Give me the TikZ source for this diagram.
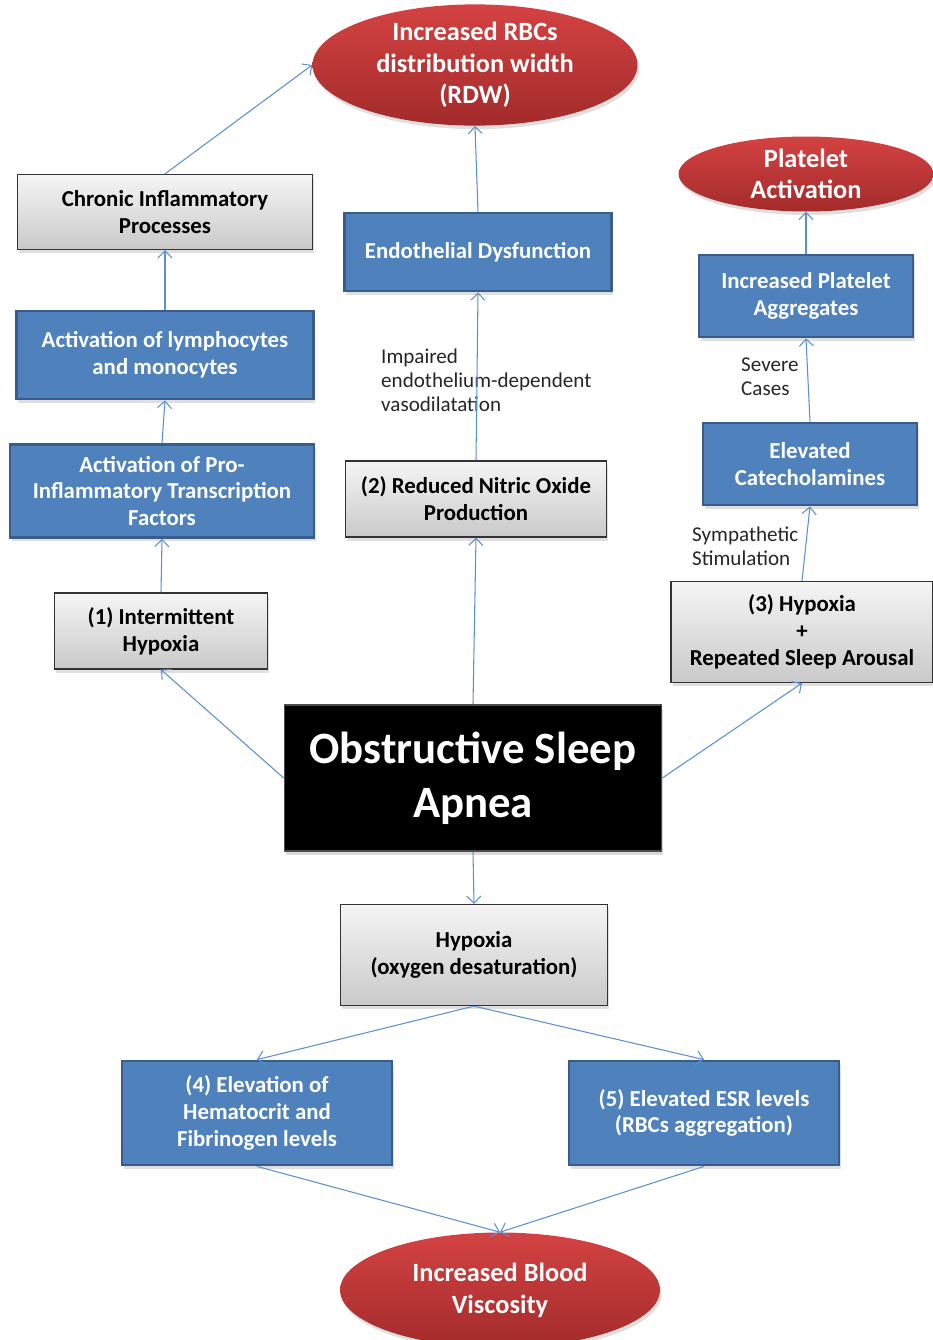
\documentclass[tikz,border=0pt]{standalone}
\usepackage{fontspec}
\setmainfont{Carlito}
\usetikzlibrary{shapes.geometric,shadows,arrows.meta}
\definecolor{boxblue}{HTML}{4F81BD}
\definecolor{boxedge}{HTML}{385D8A}
\definecolor{linkblue}{HTML}{5B8FD0}
\definecolor{ovaltop}{HTML}{D44242}
\definecolor{ovalbot}{HTML}{A32B2B}
\tikzstyle{bluebox}=[rectangle, draw=boxedge, line width=1.6pt, fill=boxblue, text=white, align=center,
  font=\bfseries\fontsize{13}{15.3}\selectfont, drop shadow={shadow xshift=1pt, shadow yshift=-2pt, opacity=0.25}]
\tikzstyle{graybox}=[rectangle, draw=black!80, line width=0.7pt, top color=gray!8, bottom color=gray!42, align=center,
  font=\bfseries\fontsize{13}{15.3}\selectfont, drop shadow={shadow xshift=1pt, shadow yshift=-2pt, opacity=0.25}]
\tikzstyle{oval}=[ellipse, inner sep=0pt, top color=ovaltop, bottom color=ovalbot, text=white, align=center,
  font=\bfseries\fontsize{15}{18}\selectfont, drop shadow={shadow xshift=1pt, shadow yshift=-2pt, opacity=0.25}]
\tikzstyle{note}=[align=left, text=black!85, font=\fontsize{12}{13.6}\selectfont]
\tikzstyle{link}=[draw=linkblue, line width=0.6pt, -{Straight Barb[length=4pt,width=8pt]}]
\begin{document}
\begin{tikzpicture}[x=0.02cm, y=-0.02cm]
\useasboundingbox (0,0) rectangle (933,1340);
\clip (0,0) rectangle (933,1340);
\node [oval, minimum width=6.5cm, minimum height=2.3cm] (rdw) at (475,65) {Increased RBCs\\distribution width\\(RDW)};
\node [oval, minimum width=5.1cm, minimum height=1.5cm] (platelet) at (806,174) {Platelet\\Activation};
\node [graybox, minimum width=5.9cm, minimum height=1.5cm] (chronic) at (165,212) {Chronic Inflammatory\\Processes};
\node [bluebox, minimum width=5.34cm, minimum height=1.56cm] (endo) at (478,252) {Endothelial Dysfunction};
\node [bluebox, minimum width=4.28cm, minimum height=1.64cm] (aggr) at (806,296) {Increased Platelet\\Aggregates};
\node [bluebox, minimum width=5.94cm, minimum height=1.76cm] (lymph) at (165,355) {Activation of lymphocytes\\and monocytes};
\node [bluebox, minimum width=4.28cm, minimum height=1.64cm] (catechol) at (810,464) {Elevated\\Catecholamines};
\node [bluebox, minimum width=6.08cm, minimum height=1.86cm] (pro) at (162,491) {Activation of Pro-\\Inflammatory Transcription\\Factors};
\node [graybox, minimum width=5.22cm, minimum height=1.52cm] (nitric) at (476,499) {(2) Reduced Nitric Oxide\\Production};
\node [graybox, minimum width=4.26cm, minimum height=1.52cm] (intermit) at (161,631) {(1) Intermittent\\Hypoxia};
\node [graybox, minimum width=5.24cm, minimum height=2.02cm] (arousal) at (802,632) {(3) Hypoxia\\+\\Repeated Sleep Arousal};
\node [rectangle, draw=black!70, line width=1pt, fill=black, text=white, align=center, minimum width=7.54cm, minimum height=2.92cm,
  font=\bfseries\fontsize{25.5}{31}\selectfont, drop shadow={shadow xshift=1pt, shadow yshift=-2pt, opacity=0.3}] (osa) at (473,778) {Obstructive Sleep\\Apnea};
\node [graybox, minimum width=5.34cm, minimum height=2.02cm] (hypox) at (474,955) {Hypoxia\\(oxygen desaturation)};
\node [bluebox, minimum width=5.4cm, minimum height=2.08cm] (hemat) at (257,1113) {(4) Elevation of\\Hematocrit and\\Fibrinogen levels};
\node [bluebox, minimum width=5.4cm, minimum height=2.08cm] (esr) at (704,1113) {(5) Elevated ESR levels\\(RBCs aggregation)};
\node [oval, minimum width=6.4cm, minimum height=2.3cm] (visc) at (500,1290) {Increased Blood\\Viscosity};
\node [note, anchor=west] (impair) at (375,380) {Impaired\\endothelium-dependent\\vasodilatation};
\node [note, anchor=west] (severe) at (735,377) {Severe\\Cases};
\node [note, anchor=west] (symp) at (686,546) {Sympathetic\\Stimulation};
\draw [link] (chronic.north) -- (rdw.west);
\draw [link] (endo.north) -- (rdw.south);
\draw [link] (lymph.north) -- (chronic.south);
\draw [link] (pro.north) -- (lymph.south);
\draw [link] (intermit.north) -- (pro.south);
\draw [link] (osa.west) -- (intermit.south);
\draw [link] (osa.north) -- (nitric.south);
\draw [link] (nitric.north) -- (endo.south);
\draw [link] (osa.east) -- (arousal.south);
\draw [link] (arousal.north) -- (catechol.south);
\draw [link] (catechol.north) -- (aggr.south);
\draw [link] (aggr.north) -- (platelet.south);
\draw [link] (osa.south) -- (hypox.north);
\draw [link] (hypox.south) -- (hemat.north);
\draw [link] (hypox.south) -- (esr.north);
\draw [link] (hemat.south) -- (visc.north);
\draw [link] (esr.south) -- (visc.north);
\end{tikzpicture}
\end{document}
